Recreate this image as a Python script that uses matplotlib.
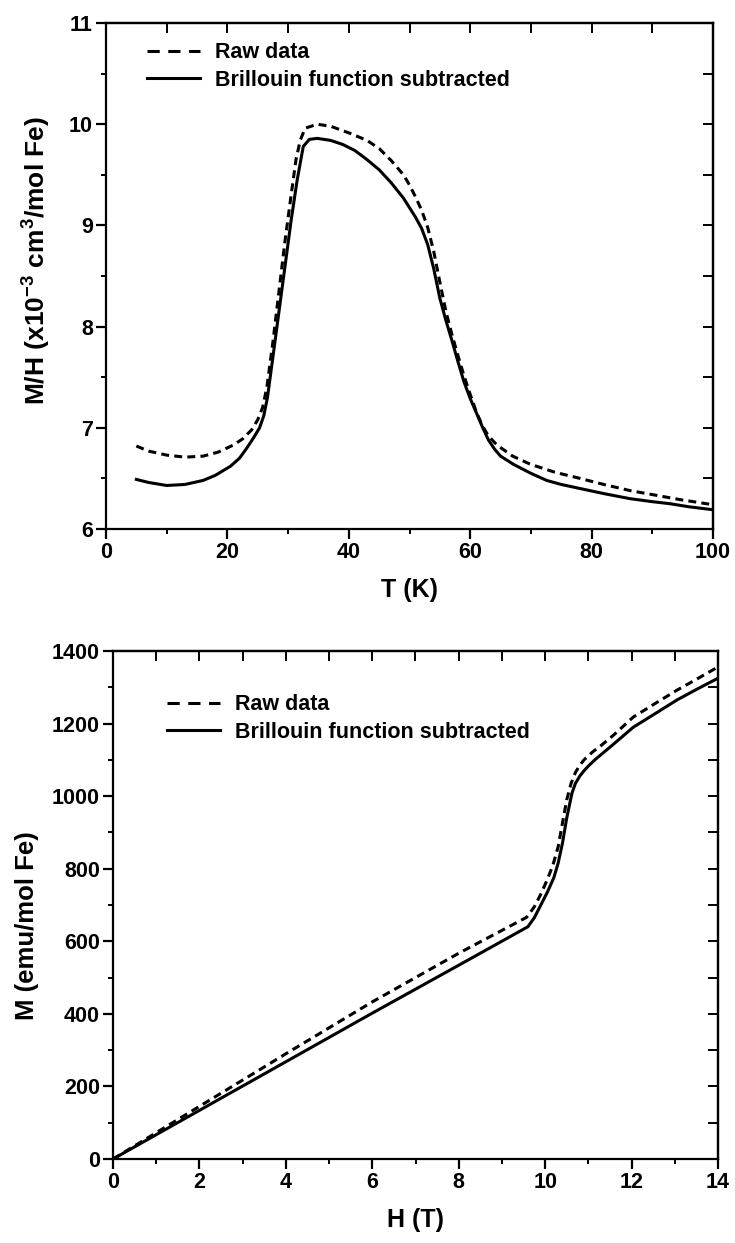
import matplotlib
matplotlib.use("Agg")
import matplotlib.pyplot as plt
from matplotlib.ticker import MultipleLocator
from matplotlib.lines import Line2D

# ---------------- data ----------------
# Top panel: M/H vs T
T_raw = [5, 7, 10, 13, 16, 18.5, 21, 22.5, 24, 25, 25.8, 26.5, 27.5, 28.5, 29.5,
         30.5, 31.3, 32, 32.8, 34.8, 37, 40.2, 43, 45, 47, 49, 50, 51, 52, 53,
         54, 55, 56, 57, 58, 59, 60, 61, 62, 63, 64.4, 67, 69.9, 74, 78.1, 82,
         86.3, 90, 94.6, 100]
MH_raw = [6.82, 6.77, 6.73, 6.71, 6.72, 6.76, 6.83, 6.89, 6.98, 7.08, 7.2, 7.4,
          7.85, 8.35, 8.85, 9.3, 9.65, 9.84, 9.96, 10.0, 9.98, 9.91, 9.84, 9.76,
          9.64, 9.50, 9.40, 9.28, 9.15, 8.98, 8.74, 8.44, 8.15, 7.92, 7.71, 7.51,
          7.33, 7.16, 7.02, 6.92, 6.83, 6.72, 6.64, 6.56, 6.50, 6.44, 6.38, 6.34,
          6.29, 6.24]

T_sub = [5, 7, 10, 13, 16, 18, 20.5, 22, 23.2, 24.3, 25.3, 26, 26.6, 27.5, 28.5,
         29.5, 30.5, 31.5, 32.5, 33.5, 34.8, 37, 39, 41, 43, 45, 47, 49, 51, 52,
         53, 54, 55, 56, 57, 58, 59, 60, 61, 62, 63, 64, 65, 67.1, 70, 72.6, 75,
         78.1, 82, 86.3, 90, 92.9, 96, 100]
MH_sub = [6.49, 6.46, 6.43, 6.44, 6.48, 6.53, 6.62, 6.70, 6.80, 6.90, 7.0, 7.12,
          7.3, 7.7, 8.15, 8.6, 9.05, 9.45, 9.78, 9.85, 9.86, 9.84, 9.80, 9.74,
          9.65, 9.55, 9.42, 9.27, 9.08, 8.97, 8.81, 8.57, 8.28, 8.06, 7.86, 7.65,
          7.45, 7.29, 7.15, 7.01, 6.88, 6.79, 6.72, 6.64, 6.55, 6.48, 6.44, 6.40,
          6.35, 6.30, 6.27, 6.25, 6.22, 6.19]

# Bottom panel: M vs H
H_raw = [0, 2, 4, 6, 8, 9.57, 9.75, 9.9, 10.05, 10.18, 10.3, 10.4, 10.5, 10.6,
         10.7, 10.8, 10.9, 11.1, 11.3, 11.6, 12.04, 12.5, 13.05, 13.5, 14]
M_raw = [0, 145, 290, 433, 567, 666, 695, 730, 770, 810, 860, 925, 990, 1035,
         1065, 1085, 1100, 1122, 1140, 1170, 1218, 1252, 1292, 1322, 1356]

H_sub = [0, 2, 4, 6, 8, 9.6, 9.75, 9.9, 10.05, 10.2, 10.3, 10.4, 10.5, 10.62,
         10.7, 10.8, 10.9, 11.0, 11.15, 11.3, 11.6, 12.04, 12.5, 13.05, 13.5, 14]
M_sub = [0, 134, 268, 402, 534, 640, 665, 700, 735, 775, 815, 870, 940, 1008,
         1035, 1055, 1070, 1083, 1100, 1115, 1145, 1190, 1224, 1265, 1294, 1325]

labels = ["Raw data", "Brillouin function subtracted"]

# ---------------- style ----------------
FAM = ["Liberation Sans", "DejaVu Sans"]
plt.rcParams["font.family"] = FAM
plt.rcParams["font.weight"] = "bold"
plt.rcParams["axes.labelweight"] = "bold"
plt.rcParams["mathtext.fontset"] = "custom"
plt.rcParams["mathtext.rm"] = "Liberation Sans:bold"
plt.rcParams["mathtext.bf"] = "Liberation Sans:bold"
plt.rcParams["mathtext.default"] = "bf"

W, H = 735, 1243
fig = plt.figure(figsize=(W / 100, H / 100), dpi=100)


def px_axes(l, r, t, b):
    return fig.add_axes([l / W, 1 - b / H, (r - l) / W, (b - t) / H])


def style(ax, xmaj, xmin, ymaj, ymin):
    for s in ax.spines.values():
        s.set_linewidth(1.6)
    ax.xaxis.set_major_locator(MultipleLocator(xmaj))
    ax.xaxis.set_minor_locator(MultipleLocator(xmin))
    ax.yaxis.set_major_locator(MultipleLocator(ymaj))
    ax.yaxis.set_minor_locator(MultipleLocator(ymin))
    ax.tick_params(which="major", direction="out", length=7, width=1.6,
                   labelsize=15.5, pad=2.5)
    ax.tick_params(which="minor", direction="out", length=3.5, width=1.4)
    top = ax.secondary_xaxis("top")
    top.xaxis.set_major_locator(MultipleLocator(xmaj))
    top.xaxis.set_minor_locator(MultipleLocator(xmin))
    top.tick_params(which="both", direction="in", length=7, width=1.4,
                    labeltop=False)
    top.spines["top"].set_linewidth(1.6)
    right = ax.secondary_yaxis("right")
    right.yaxis.set_major_locator(MultipleLocator(ymaj))
    right.yaxis.set_minor_locator(MultipleLocator(ymin))
    right.tick_params(which="both", direction="in", length=7, width=1.4,
                      labelright=False)
    right.spines["right"].set_linewidth(1.6)
    for lab in ax.get_xticklabels() + ax.get_yticklabels():
        lab.set_fontweight("bold")


LW = 2.2
DASH = (2.6, 1.7)
LEG_DASH = (4.0, 2.8)


def legend_handles():
    return [Line2D([], [], color="black", lw=LW, dashes=LEG_DASH),
            Line2D([], [], color="black", lw=LW)]


# ---- top panel ----
ax1 = px_axes(106, 713, 23, 529)
ax1.plot(T_raw, MH_raw, color="black", lw=LW, dashes=DASH)
ax1.plot(T_sub, MH_sub, color="black", lw=LW)
ax1.set_xlim(0, 100)
ax1.set_ylim(6, 11)
style(ax1, 20, 10, 1, 0.5)
ax1.set_xlabel("T (K)", fontsize=18, fontweight="bold", labelpad=11)
ax1.set_ylabel(r"M/H (x10$^{-3}$ cm$^{3}$/mol Fe)", fontsize=19,
               fontweight="bold")
ax1.yaxis.set_label_coords(-0.088, 0.53)
ax1.legend(legend_handles(), labels, loc="upper left",
           bbox_to_anchor=(0.053, 0.979), frameon=False, fontsize=15.5,
           handlelength=2.45, handletextpad=0.7, labelspacing=0.3,
           borderaxespad=0)

# ---- bottom panel ----
ax2 = px_axes(113, 718, 651, 1159)
ax2.plot(H_raw, M_raw, color="black", lw=LW, dashes=DASH)
ax2.plot(H_sub, M_sub, color="black", lw=LW)
ax2.set_xlim(0, 14)
ax2.set_ylim(0, 1400)
style(ax2, 2, 1, 200, 100)
ax2.set_xlabel("H (T)", fontsize=18, fontweight="bold", labelpad=11)
ax2.set_ylabel("M (emu/mol Fe)", fontsize=18.5, fontweight="bold")
ax2.yaxis.set_label_coords(-0.123, 0.46)
ax2.legend(legend_handles(), labels, loc="upper left",
           bbox_to_anchor=(0.075, 0.932), frameon=False, fontsize=15.5,
           handlelength=2.45, handletextpad=0.7, labelspacing=0.3,
           borderaxespad=0)

fig.savefig("out.png", dpi=100)
